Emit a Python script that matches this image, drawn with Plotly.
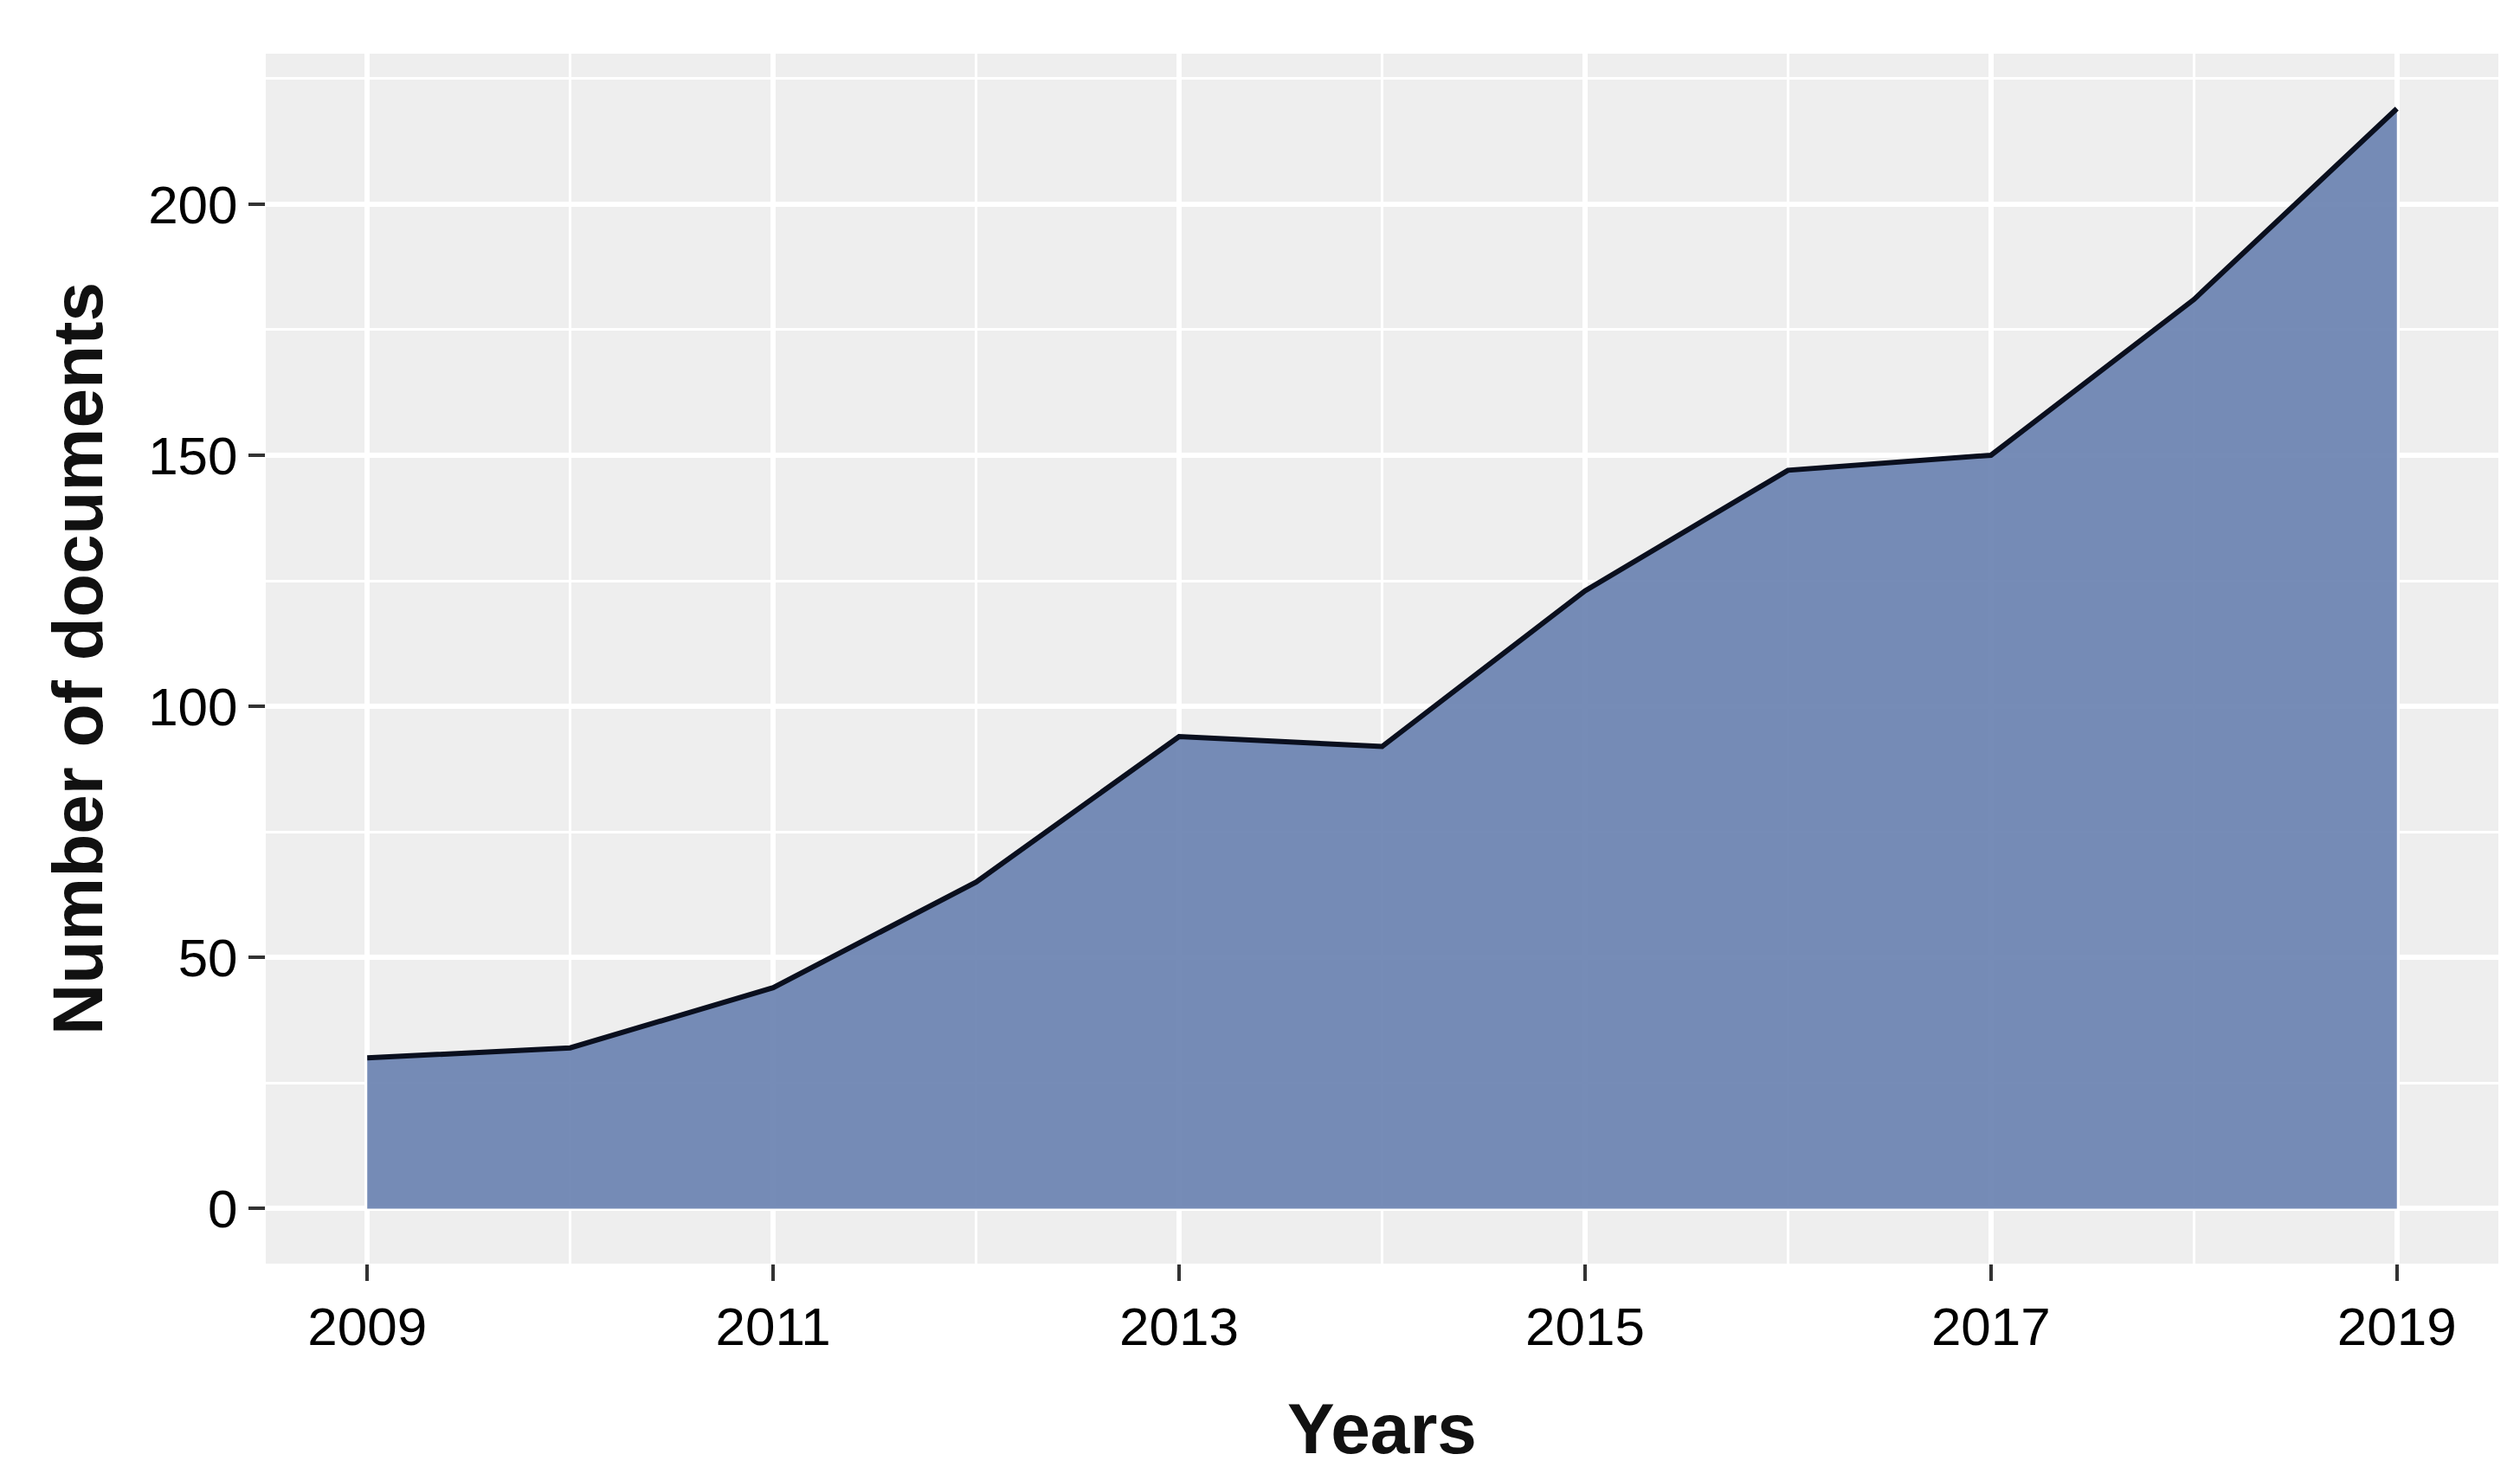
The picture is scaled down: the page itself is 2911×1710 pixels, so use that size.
import plotly.graph_objects as go

# Documents per year
years = [2009, 2010, 2011, 2012, 2013, 2014, 2015, 2016, 2017, 2018, 2019]
documents = [30, 32, 44, 65, 94, 92, 123, 147, 150, 181, 219]

x_title = "Years"
y_title = "Number of documents"

fig = go.Figure()

fig.add_trace(go.Scatter(
    x=years,
    y=documents,
    mode="lines",
    fill="tozeroy",
    fillcolor="rgba(106,130,177,0.92)",
    line=dict(color="#0a0f1e", width=6),
    showlegend=False,
))

axis_font = dict(family="Liberation Sans, Arial, sans-serif", size=62, color="black")
title_font = dict(family="Liberation Sans, Arial, sans-serif", size=82, color="#111111")

fig.update_layout(
    width=2911,
    height=1710,
    margin=dict(l=299, r=33, t=54, b=258),
    paper_bgcolor="white",
    plot_bgcolor="#eeeeee",
    xaxis=dict(
        range=[2008.5, 2019.5],
        tick0=2009,
        dtick=2,
        showgrid=True,
        gridcolor="white",
        gridwidth=6,
        zeroline=False,
        ticks="outside",
        ticklen=19,
        tickwidth=4,
        tickcolor="#333333",
        tickfont=axis_font,
        minor=dict(tick0=2009, dtick=1, showgrid=True, gridcolor="white", gridwidth=3),
        title=dict(text="<b>%s</b>" % x_title, font=title_font, standoff=55),
    ),
    yaxis=dict(
        range=[-10.95, 229.95],
        tick0=0,
        dtick=50,
        showgrid=True,
        gridcolor="white",
        gridwidth=6,
        zeroline=False,
        ticks="outside",
        ticklen=19,
        tickwidth=4,
        tickcolor="#333333",
        tickfont=axis_font,
        minor=dict(tick0=0, dtick=25, showgrid=True, gridcolor="white", gridwidth=3),
        title=dict(text="<b>%s</b>" % y_title, font=title_font, standoff=25),
    ),
)

fig.write_html("out.html")
